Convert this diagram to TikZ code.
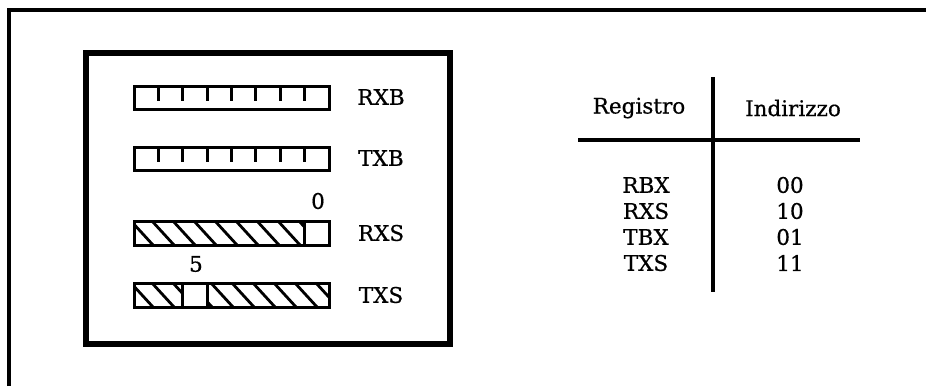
\documentclass[tikz,border=0pt]{standalone}
\usepackage{fontspec}
\setmainfont[FakeBold=0.6]{DejaVu Serif}
\begin{document}
\begin{tikzpicture}[x=1pt,y=-1pt,
  lbl/.style={font=\fontsize{21.5}{24}\selectfont, inner sep=0pt},
  barline/.style={line width=3pt},
  hatchline/.style={line width=2.8pt},
  tabline/.style={line width=3.2pt},
]
\useasboundingbox (0,0) rectangle (926,386);
\fill[white] (0,0) rectangle (926,386);
% outer frame
\draw[line width=3.5pt] (9,386) -- (9,10) -- (926,10);
% inner box
\draw[line width=6pt] (86,53) rectangle (450,344);

% RXB bar
\draw[barline] (134,86) rectangle (329,109);
\foreach \k in {1,...,7} \draw[barline] ({134+\k*24.375},86) -- ({134+\k*24.375},101);
\node[lbl] (rxb) at (381,97) {RXB};

% TXB bar
\draw[barline] (134,147) rectangle (329,170);
\foreach \k in {1,...,7} \draw[barline] ({134+\k*24.375},147) -- ({134+\k*24.375},162);
\node[lbl] (txb) at (381,158) {TXB};

% RXS bar
\begin{scope}
\clip (134,221) rectangle (304.6,245);
\foreach \x in {110,131,...,320} \draw[hatchline] (\x,221) -- (\x+22,245);
\end{scope}
\draw[barline] (134,221) rectangle (329,245);
\draw[barline] (304.6,221) -- (304.6,245);
\node[lbl] (zero) at (318,201) {0};
\node[lbl] (rxs) at (381,233) {RXS};

% TXS bar
\begin{scope}
\clip (134,283) rectangle (182.75,307);
\foreach \x in {110,131,...,200} \draw[hatchline] (\x,283) -- (\x+22,307);
\end{scope}
\begin{scope}
\clip (207.1,283) rectangle (329,307);
\foreach \x in {190,211,...,340} \draw[hatchline] (\x,283) -- (\x+22,307);
\end{scope}
\draw[barline] (134,283) rectangle (329,307);
\draw[barline] (182.75,283) -- (182.75,307);
\draw[barline] (207.1,283) -- (207.1,307);
\node[lbl] (five) at (196,264) {5};
\node[lbl] (txs) at (381,295) {TXS};

% table
\coordinate (vtop) at (713,77);
\coordinate (vbot) at (713,292);
\coordinate (hl) at (578,140);
\coordinate (hr) at (860,140);
\draw[tabline] (vtop) -- (vbot);
\draw[tabline] (hl) -- (hr);
\node[lbl] (hreg) at (639,108) {Registro};
\node[lbl] (hind) at (793,108) {Indirizzo};
\node[lbl] (r1) at (646,185) {RBX};
\node[lbl] (r2) at (646,211) {RXS};
\node[lbl] (r3) at (646,237) {TBX};
\node[lbl] (r4) at (646,263) {TXS};
\node[lbl] (a1) at (790,185) {00};
\node[lbl] (a2) at (790,211) {10};
\node[lbl] (a3) at (790,237) {01};
\node[lbl] (a4) at (790,263) {11};
\end{tikzpicture}
\end{document}
